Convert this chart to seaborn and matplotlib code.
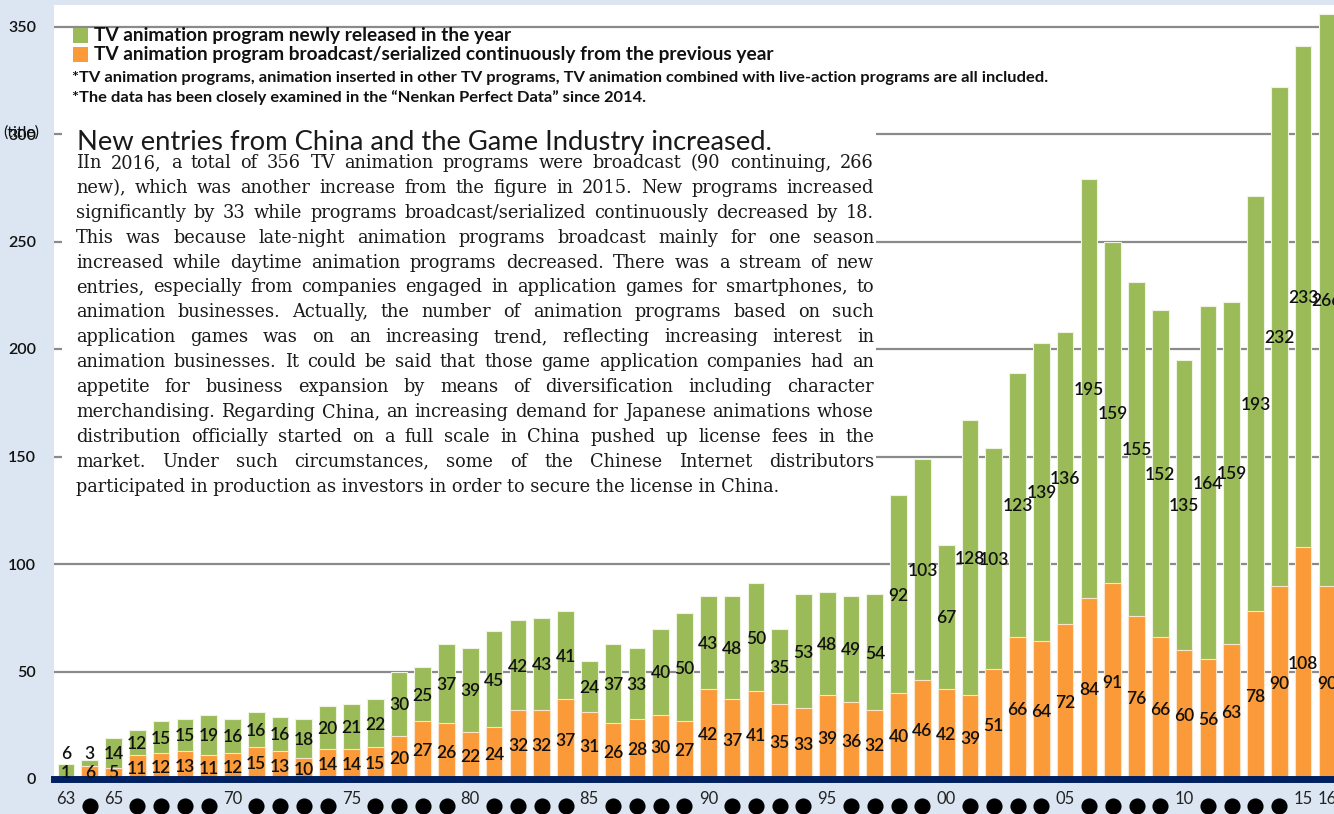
import matplotlib
matplotlib.use("Agg")
import matplotlib.pyplot as plt
from matplotlib.patches import Rectangle
import pandas as pd
import seaborn as sns

# data (titles per year)
years = list(range(1963, 2017))
continuing = [1, 6, 5, 11, 12, 13, 11, 12, 15, 13,
              10, 14, 14, 15, 20, 27, 26, 22, 24, 32,
              32, 37, 31, 26, 28, 30, 27, 42, 37, 41,
              35, 33, 39, 36, 32, 40, 46, 42, 39, 51,
              66, 64, 72, 84, 91, 76, 66, 60, 56, 63,
              78, 90, 108, 90]
new = [6, 3, 14, 12, 15, 15, 19, 16, 16, 16,
       18, 20, 21, 22, 30, 25, 37, 39, 45, 42,
       43, 41, 24, 37, 33, 40, 50, 43, 48, 50,
       35, 53, 48, 49, 54, 92, 103, 67, 128, 103,
       123, 139, 136, 195, 159, 155, 152, 135, 164, 159,
       193, 232, 233, 266]
labeled_years = {1963: "63", 1965: "65", 1970: "70", 1975: "75", 1980: "80",
                 1985: "85", 1990: "90", 1995: "95", 2000: "00", 2005: "05",
                 2010: "10", 2015: "15", 2016: "16"}
yticks = [0, 50, 100, 150, 200, 250, 300, 350]

legend_new = "TV animation program newly released in the year"
legend_cont = "TV animation program broadcast/serialized continuously from the previous year"
note1 = ("*TV animation programs, animation inserted in other TV programs, "
         "TV animation combined with live-action programs are all included.")
note2 = "*The data has been closely examined in the \u201cNenkan Perfect Data\u201d since 2014."
title = "New entries from China and the Game Industry increased."
body = [
    "IIn 2016, a total of 356 TV animation programs were broadcast (90 continuing, 266",
    "new), which was another increase from the figure in 2015. New programs increased",
    "significantly by 33 while programs broadcast/serialized continuously decreased by 18.",
    "This was because late-night animation programs broadcast mainly for one season",
    "increased while daytime animation programs decreased. There was a stream of new",
    "entries, especially from companies engaged in application games for smartphones, to",
    "animation businesses. Actually, the number of animation programs based on such",
    "application games was on an increasing trend, reflecting increasing interest in",
    "animation businesses. It could be said that those game application companies had an",
    "appetite for business expansion by means of diversification including character",
    "merchandising. Regarding China, an increasing demand for Japanese animations whose",
    "distribution officially started on a full scale in China pushed up license fees in the",
    "market. Under such circumstances, some of the Chinese Internet distributors",
    "participated in production as investors in order to secure the license in China.",
]

GREEN = "#9bbb59"
ORANGE = "#fa9a38"
BG = "#dce6f2"
NAVY = "#002060"
INK = "#111111"

df = pd.DataFrame({"year": [str(y) for y in years],
                   "continuing": continuing, "new": new})
df["total"] = df["continuing"] + df["new"]

sns.set_theme(style="white")
plt.rcParams["font.family"] = ["Lato", "DejaVu Sans"]

W, H = 1334, 814
fig = plt.figure(figsize=(W / 100, H / 100), dpi=100, facecolor=BG)
ax = fig.add_axes([54 / W, 35 / H, 1 - 54 / W, (779 - 5) / H])
ax.set_facecolor("white")


def fx(px):
    return px / W


def fy(py):
    return 1 - py / H


sns.barplot(data=df, x="year", y="total", color=GREEN, saturation=1,
            width=0.7, edgecolor="#eef3e2", linewidth=0.8, ax=ax)
sns.barplot(data=df, x="year", y="continuing", color=ORANGE, saturation=1,
            width=0.7, edgecolor="#fbe3c8", linewidth=0.8, ax=ax)

ax.set_xlim(-0.5, 53.3)
ax.set_ylim(0, 360)
ax.set_yticks(yticks)
ax.set_xticks([])
ax.set_xlabel("")
ax.set_ylabel("")
ax.tick_params(axis="y", length=0, pad=13, labelsize=11.5, labelcolor=INK)
for lab in ax.get_yticklabels():
    lab.set_fontweight("semibold")
ax.yaxis.grid(True, color="#8a8a8a", linewidth=1.6)
ax.set_axisbelow(True)
for s in ["top", "right", "left"]:
    ax.spines[s].set_visible(False)
ax.spines["bottom"].set_color(NAVY)
ax.spines["bottom"].set_linewidth(5)

# value labels
for i, (c, n) in enumerate(zip(continuing, new)):
    oy = max(c / 2, 3.5)
    gy = max(c + n / 2, oy + 9)
    ax.text(i, oy, str(c), ha="center", va="center_baseline", fontsize=12.5,
            weight="semibold", color=INK)
    ax.text(i, gy, str(n), ha="center", va="center_baseline", fontsize=12.5,
            weight="semibold", color=INK)

# year ticks with dots between
xt = ax.get_xaxis_transform()
dot_x = []
for i, y in enumerate(years):
    if y in labeled_years:
        ax.text(i, -0.026, labeled_years[y], transform=xt, ha="center", va="center",
                fontsize=12, color="#222222", clip_on=False)
    else:
        dot_x.append(i)
ax.scatter(dot_x, [-0.035] * len(dot_x), transform=xt, s=135, color="black",
           linewidths=0, clip_on=False)

fig.text(fx(21), fy(133), "(title)", ha="center", va="center", fontsize=11.5, color=INK)

# white panel behind the commentary
ax.add_patch(Rectangle((fx(62), fy(505)), fx(876) - fx(62), (505 - 118) / H,
                       transform=fig.transFigure, facecolor="white", edgecolor="none",
                       zorder=1.5))

fig.canvas.draw()
renderer = fig.canvas.get_renderer()


def width_of(s, size, **kw):
    t = fig.text(0, 0, s, fontsize=size, **kw)
    w = t.get_window_extent(renderer).width
    t.remove()
    return w


def fit(s, target, **kw):
    return 12 * target / width_of(s, 12, **kw)


# legend
for sq_y, col in [(28, GREEN), (47, ORANGE)]:
    fig.add_artist(Rectangle((fx(73), fy(sq_y + 15)), 15 / W, 15 / H,
                             transform=fig.transFigure, facecolor=col, edgecolor="none"))
leg_size = fit(legend_cont, 676, weight="bold")
fig.text(fx(94), fy(41), legend_new, fontsize=leg_size, weight="bold", va="baseline", color=INK)
fig.text(fx(94), fy(60), legend_cont, fontsize=leg_size, weight="bold", va="baseline", color=INK)
note_size = fit(note1, 968, weight="bold")
fig.text(fx(72), fy(82), note1, fontsize=note_size, weight="bold", va="baseline", color=INK)
fig.text(fx(72), fy(102), note2, fontsize=note_size, weight="bold", va="baseline", color=INK)

# commentary
title_size = fit(title, 693, weight="normal")
fig.text(fx(77), fy(150), title, fontsize=title_size, weight="normal", va="baseline",
         color="#1a1a1a", zorder=5)

serif = {"family": "DejaVu Serif"}
body_size = fit(body[-1], 704, **serif)
x0, x1 = 76, 874
for k, line in enumerate(body):
    by = 168 + k * 24.9
    if k == len(body) - 1:
        fig.text(fx(x0), fy(by), line, fontsize=body_size, va="baseline",
                 color="#1a1a1a", zorder=5, **serif)
        continue
    words = line.split(" ")
    ws = [width_of(w, body_size, **serif) for w in words]
    gap = (x1 - x0 - sum(ws)) / (len(words) - 1)
    x = x0
    for w, wd in zip(words, ws):
        fig.text(fx(x), fy(by), w, fontsize=body_size, va="baseline",
                 color="#1a1a1a", zorder=5, **serif)
        x += wd + gap

fig.savefig("out.png", dpi=100, facecolor=BG)
